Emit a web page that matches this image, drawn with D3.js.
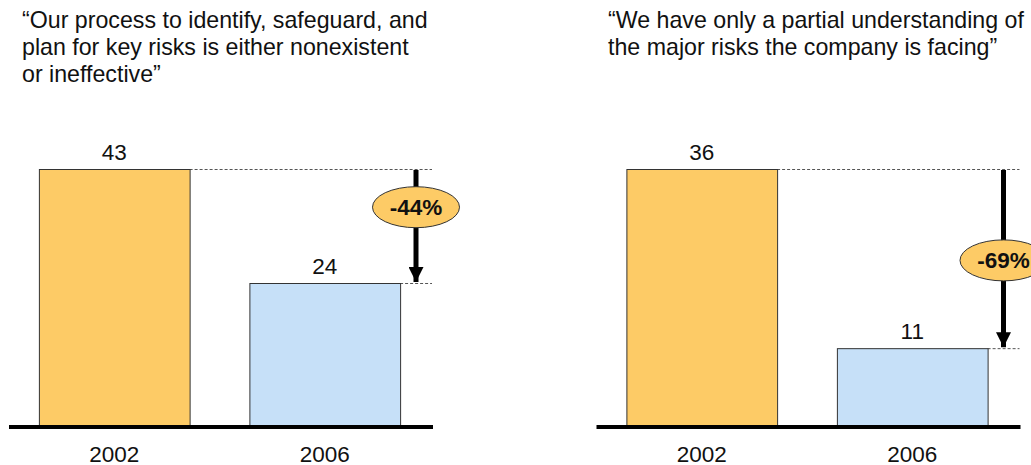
<!DOCTYPE html>
<html><head><meta charset="utf-8">
<script src="https://cdn.jsdelivr.net/npm/d3@7"></script>
<style>body{margin:0;background:#fff}svg{display:block;font-family:"Liberation Sans",Arial,sans-serif}</style>
</head><body><div id="chart"></div>
<script>
const categories = ["2002", "2006"];
const panelTitles = [
  ["\u201cOur process to identify, safeguard, and", "plan for key risks is either nonexistent", "or ineffective\u201d"],
  ["\u201cWe have only a partial understanding of", "the major risks the company is facing\u201d"]
];
const valuesA = [43, 24];
const valuesB = [36, 11];
const changeLabels = ["-44%", "-69%"];
const seriesValues = [valuesA, valuesB];

const W = 1031, H = 465;
const svg = d3.select("#chart").append("svg").attr("width", W).attr("height", H);
const colors = ["#FDCB66", "#C6E0F8"];
const offsets = [0, 587.5];
const titleX = [22, 608];
const badgeFrac = [0.335, 0.51];
const baseY = 427, topY = 169;

svg.append("defs").append("marker").attr("id","ah").attr("viewBox","0 0 10 10")
  .attr("refX",10).attr("refY",5).attr("markerWidth",3).attr("markerHeight",3)
  .attr("orient","auto").attr("markerUnits","strokeWidth")
  .append("path").attr("d","M0,0L10,5L0,10Z").attr("fill","#000");

seriesValues.forEach((vals, p) => {
  const g = svg.append("g").attr("transform", `translate(${offsets[p]},0)`);
  const x = d3.scaleBand().domain(categories).range([9, 430]).paddingInner(0.284).paddingOuter(0.142);
  const y = d3.scaleLinear().domain([0, d3.max(vals)]).range([baseY, topY]);

  // title
  svg.append("text").attr("x", titleX[p]).attr("y", 28).attr("font-size", 23.2).attr("fill","#111")
    .selectAll("tspan").data(panelTitles[p]).join("tspan")
    .attr("x", titleX[p]).attr("dy", (d,i)=> i===0?0:27).text(d=>d);

  const arrowX = 416;
  const lineEnd = 432;
  // dashed reference lines
  vals.forEach((v,i) => {
    g.append("line").attr("x1", x(categories[i]) + x.bandwidth()).attr("x2", lineEnd)
      .attr("y1", y(v)+0.5).attr("y2", y(v)+0.5)
      .attr("stroke","#555").attr("stroke-width",1).attr("stroke-dasharray","3,2");
  });

  // bars
  g.selectAll("rect.bar").data(vals).join("rect").attr("class","bar")
    .attr("x",(d,i)=>x(categories[i])+0.5).attr("y",d=>y(d)+0.5)
    .attr("width",x.bandwidth()).attr("height",d=>baseY-y(d))
    .attr("fill",(d,i)=>colors[i]).attr("stroke","#333").attr("stroke-width",1);

  // value labels
  g.selectAll("text.val").data(vals).join("text").attr("class","val")
    .attr("x",(d,i)=>x(categories[i])+x.bandwidth()/2).attr("y",d=>y(d)-9)
    .attr("text-anchor","middle").attr("font-size",22.5).attr("fill","#111").text(d=>d);

  // baseline
  g.append("line").attr("x1",9).attr("x2",433).attr("y1",baseY).attr("y2",baseY)
    .attr("stroke","#000").attr("stroke-width",4);

  // category labels
  g.selectAll("text.cat").data(categories).join("text").attr("class","cat")
    .attr("x",d=>x(d)+x.bandwidth()/2).attr("y",461.5)
    .attr("text-anchor","middle").attr("font-size",22.5).attr("fill","#111").text(d=>d);

  // arrow
  g.append("line").attr("x1",arrowX).attr("x2",arrowX).attr("y1",y(vals[0])+1).attr("y2",y(vals[1])-1)
    .attr("stroke","#000").attr("stroke-width",5).attr("marker-end","url(#ah)");

  // badge
  const by = y(vals[0]) + badgeFrac[p]*(y(vals[1])-y(vals[0]));
  g.append("ellipse").attr("cx",arrowX).attr("cy",by).attr("rx",43.5).attr("ry",20.5)
    .attr("fill","#FDCB66").attr("stroke","#333").attr("stroke-width",1);
  g.append("text").attr("x",arrowX).attr("y",by+8).attr("text-anchor","middle")
    .attr("font-size",22.5).attr("font-weight","bold").attr("fill","#111").text(changeLabels[p]);
});
</script></body></html>
